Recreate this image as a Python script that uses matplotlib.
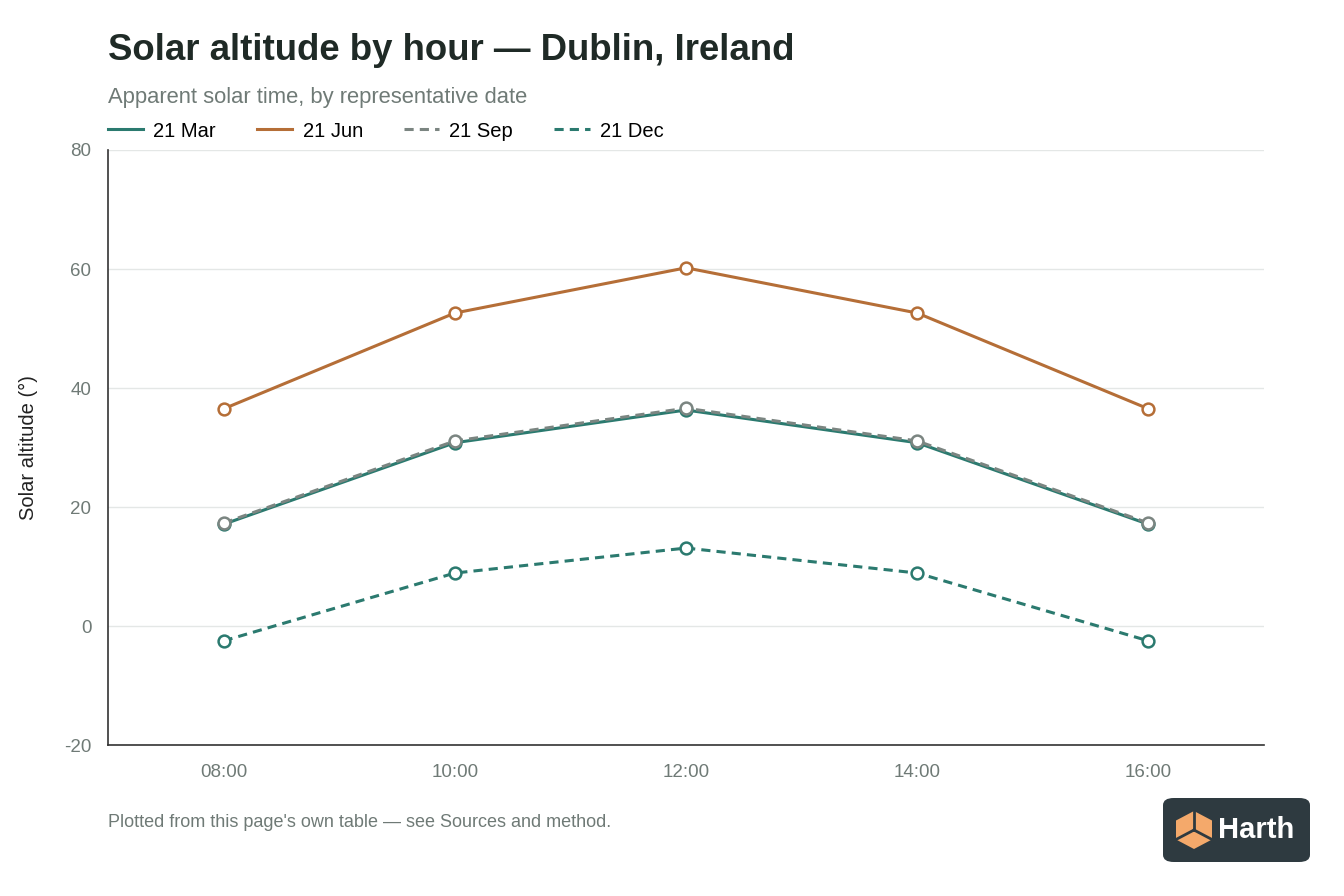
import numpy as np
import matplotlib.pyplot as plt
from matplotlib.patches import FancyBboxPatch, Polygon
from matplotlib.lines import Line2D

plt.rcParams['font.family'] = ['Liberation Sans', 'DejaVu Sans']
plt.rcParams['axes.unicode_minus'] = False

# Data
hours = [8, 10, 12, 14, 16]
hour_labels = ['08:00', '10:00', '12:00', '14:00', '16:00']
mar = [17.1, 30.8, 36.3, 30.8, 17.1]
jun = [36.5, 52.6, 60.2, 52.6, 36.5]
sep = [17.3, 31.1, 36.6, 31.1, 17.3]
dec = [-2.5, 8.9, 13.1, 8.9, -2.5]

teal = '#2b7a6f'
orange = '#b56e37'
grey = '#7b8581'
ink = '#1f2a26'
muted = '#6f7a76'

fig = plt.figure(figsize=(13.44, 8.96), dpi=100)
ax = fig.add_axes([108 / 1344, 1 - 745 / 896, (1264 - 108) / 1344, (745 - 150) / 896])

series = [
    ('21 Mar', mar, teal, '-'),
    ('21 Jun', jun, orange, '-'),
    ('21 Sep', sep, grey, (0, (3, 2))),
    ('21 Dec', dec, teal, (0, (3, 2))),
]
for label, vals, col, ls in series:
    ax.plot(hours, vals, color=col, linestyle=ls, linewidth=2.2, marker='o',
            markersize=8.5, markerfacecolor='white', markeredgecolor=col,
            markeredgewidth=1.8, label=label, zorder=3)

ax.set_xlim(7, 17)
ax.set_ylim(-20, 80)
ax.set_xticks(hours)
ax.set_xticklabels(hour_labels)
ax.set_yticks(np.arange(-20, 81, 20))
ax.grid(axis='y', color='#e4e7e6', linewidth=1)
ax.set_axisbelow(True)
for s in ['top', 'right']:
    ax.spines[s].set_visible(False)
for s in ['left', 'bottom']:
    ax.spines[s].set_color('#333333')
    ax.spines[s].set_linewidth(1.2)
ax.tick_params(axis='both', length=0, labelsize=13.5, colors=muted, pad=14)
ax.tick_params(axis='y', pad=12)
ax.set_ylabel('Solar altitude (°)', fontsize=14.5, color='#222222')
ax.yaxis.set_label_coords((38 - 108) / 1156, 0.5)

# Titles
fig.text(108 / 1344, 1 - 50 / 896, 'Solar altitude by hour — Dublin, Ireland',
         fontsize=26.4, fontweight='bold', color=ink, va='center', ha='left')
fig.text(108 / 1344, 1 - 97 / 896, 'Apparent solar time, by representative date',
         fontsize=15.8, color=muted, va='center', ha='left')

# Legend
handles = [Line2D([0], [0], color=c, linestyle=ls, linewidth=2.2) for _, _, c, ls in series]
fig.legend(handles, [s[0] for s in series], loc='center left',
           bbox_to_anchor=(108 / 1344, 1 - 131 / 896), ncol=4, frameon=False,
           fontsize=14.5, handlelength=1.75, handletextpad=0.5, columnspacing=2.05,
           borderpad=0, borderaxespad=0)

# Footer
fig.text(108 / 1344, 1 - 822 / 896,
         "Plotted from this page's own table — see Sources and method.",
         fontsize=13, color=muted, va='center', ha='left')

# Logo badge
lx0, ly0, lw, lh = 1163 / 1344, 1 - 862 / 896, 147 / 1344, 64 / 896
fig.patches.append(FancyBboxPatch((lx0, ly0), lw, lh, boxstyle='round,pad=0,rounding_size=0.008',
                                  transform=fig.transFigure, facecolor='#2e3a40', edgecolor='none'))
cx, cy = 1194 / 1344, 1 - 830 / 896
sx, sy = 18 / 1344, 19 / 896
cube = [(cx - sx, cy + 0.5 * sy), (cx, cy + sy), (cx + sx, cy + 0.5 * sy),
        (cx + sx, cy - 0.5 * sy), (cx, cy - sy), (cx - sx, cy - 0.5 * sy)]
fig.patches.append(Polygon(cube, closed=True, transform=fig.transFigure,
                           facecolor='#f4a96b', edgecolor='none'))
for a, b in [((cx, cy), (cx, cy + sy)), ((cx, cy), (cx - sx, cy - 0.5 * sy)),
             ((cx, cy), (cx + sx, cy - 0.5 * sy))]:
    fig.lines.append(Line2D([a[0], b[0]], [a[1], b[1]], transform=fig.transFigure,
                            color='#2e3a40', linewidth=2))
fig.text(1218 / 1344, cy, 'Harth', fontsize=21, fontweight='bold', color='white',
         va='center', ha='left')

fig.savefig('out.png', dpi=100)
